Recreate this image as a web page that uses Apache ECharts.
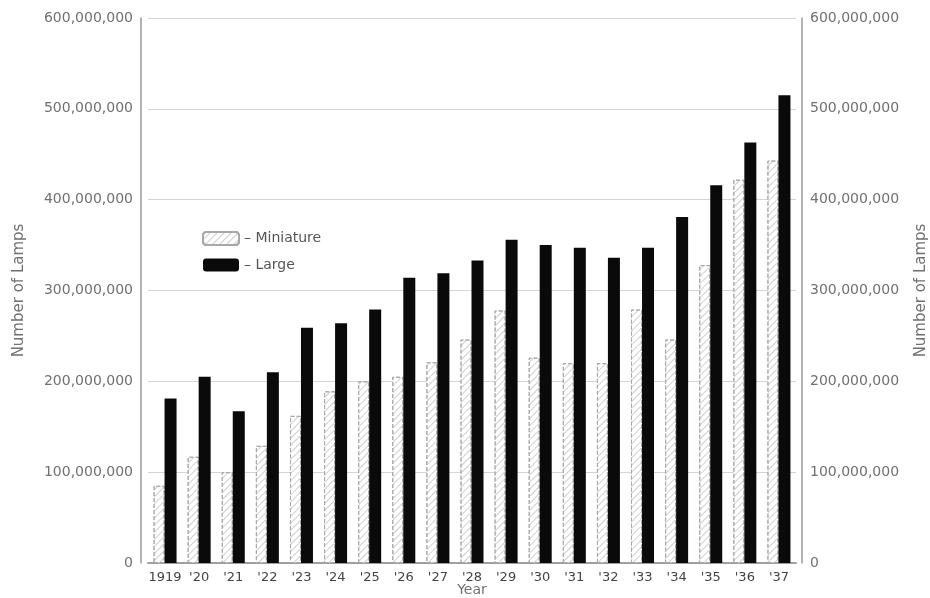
<!DOCTYPE html>
<html>
<head>
<meta charset="utf-8">
<script src="https://cdn.jsdelivr.net/npm/echarts@6/dist/echarts.min.js"></script>
<style>
  html, body { margin: 0; padding: 0; background: #fff; }
  #chart { width: 930px; height: 598px; }
</style>
</head>
<body>
<div id="chart"></div>
<script>
  // years on the x axis
  var years = ['1919', "'20", "'21", "'22", "'23", "'24", "'25", "'26", "'27", "'28",
    "'29", "'30", "'31", "'32", "'33", "'34", "'35", "'36", "'37"]
  // number of lamps
  var miniature = [85e6, 117e6, 100e6, 129e6, 162e6, 189e6, 200e6, 205e6, 221e6, 246e6,
    278e6, 226e6, 220e6, 220e6, 279e6, 246e6, 328e6, 422e6, 443e6]
  var large = [181e6, 205e6, 167e6, 210e6, 259e6, 264e6, 279e6, 314e6, 319e6, 333e6,
    356e6, 350e6, 347e6, 336e6, 347e6, 381e6, 416e6, 463e6, 515e6]
  var yTicks = [0, 100e6, 200e6, 300e6, 400e6, 500e6, 600e6]

  var font = 'DejaVu Sans'
  var grey = '#707070'

  function fmt (v) {
    return v === 0 ? '0' : v.toLocaleString('en-US')
  }

  var chart = echarts.init(document.getElementById('chart'))

  var yBase = {
    type: 'value',
    min: yTicks[0],
    max: yTicks[yTicks.length - 1],
    interval: yTicks[1] - yTicks[0],
    name: 'Number of Lamps',
    nameLocation: 'middle',
    nameMoveOverlap: false,
    nameTextStyle: { fontFamily: font, fontSize: 15, color: grey },
    axisLine: { show: true, lineStyle: { color: '#9a9a9a', width: 1.5 } },
    axisTick: { show: false },
    axisLabel: { fontFamily: font, fontSize: 14, color: grey, formatter: fmt }
  }

  chart.setOption({
    animation: false,
    backgroundColor: '#fff',
    grid: { left: 148, right: 134, top: 18, bottom: 35, outerBoundsMode: 'none' },
    legend: {
      orient: 'vertical',
      left: 197,
      top: 226,
      itemWidth: 36,
      itemHeight: 13,
      itemGap: 12,
      textStyle: { fontFamily: font, fontSize: 14, color: '#555' },
      formatter: function (n) { return '\u2013 ' + n },
      data: ['Miniature', 'Large']
    },
    xAxis: [{
      type: 'category',
      data: years,
      name: 'Year',
      nameLocation: 'middle',
      nameGap: 20,
      nameMoveOverlap: false,
      nameTextStyle: { fontFamily: font, fontSize: 14, color: grey },
      axisLine: { lineStyle: { color: '#9a9a9a', width: 1.5 } },
      axisTick: { show: false },
      axisLabel: { interval: 0, fontFamily: font, fontSize: 13, color: '#444', margin: 8 }
    }, {
      type: 'category',
      data: years,
      position: 'top',
      axisLine: { lineStyle: { color: '#9a9a9a', width: 1.5 } },
      axisTick: { show: false },
      axisLabel: { show: false }
    }],
    yAxis: [
      Object.assign({}, yBase, {
        position: 'left',
        offset: 7,
        nameGap: 114,
        splitLine: { show: true, lineStyle: { color: '#d4d4d4', width: 1 } }
      }),
      Object.assign({}, yBase, {
        position: 'right',
        offset: 6,
        nameGap: 112,
        splitLine: { show: false }
      })
    ],
    series: [{
      name: 'Miniature',
      type: 'bar',
      data: miniature,
      barWidth: 11,
      barGap: '0%',
      itemStyle: {
        color: '#fff',
        borderColor: '#a8a8a8',
        borderWidth: 1,
        borderType: 'dashed',
        decal: {
          symbol: 'rect',
          color: '#cfcfcf',
          dashArrayX: [1, 0],
          dashArrayY: [1, 4],
          rotation: -Math.PI / 4
        }
      }
    }, {
      name: 'Large',
      type: 'bar',
      data: large,
      barWidth: 12,
      itemStyle: { color: '#0a0a0a' }
    }]
  })
</script>
</body>
</html>
